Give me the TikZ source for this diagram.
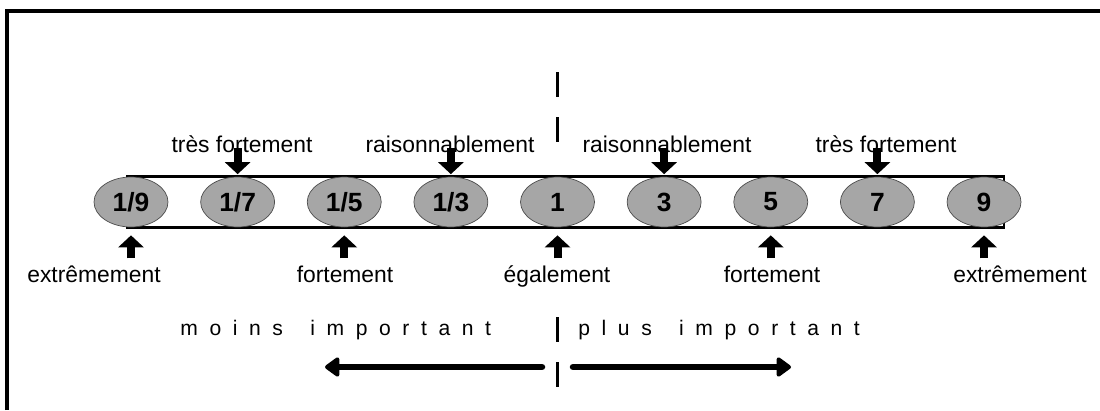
\documentclass[tikz,border=0pt]{standalone}
\usepackage{fontspec}
\setmainfont{Liberation Sans}
\newcommand\widespace{\spaceskip=0.55em\relax}
\usetikzlibrary{shapes.geometric, arrows.meta, positioning, backgrounds}
\tikzset{
  node distance=2.133cm,
  val/.style={ellipse, fill=gray!70, draw=gray!60!black, thin,
    minimum width=1.48cm, minimum height=1cm, inner sep=0pt,
    font=\fontsize{15}{18}\selectfont\bfseries},
  lbl/.style={anchor=base, inner sep=0pt, font=\fontsize{13}{15}\selectfont},
  scale text/.style={anchor=base west, inner sep=0pt,
    font=\fontsize{12}{14}\selectfont\widespace},
  pointer/.style={line width=0.16cm, -{Triangle[width=0.5cm,length=0.24cm]}},
  side/.style={line width=0.13cm, line cap=round,
    -{Triangle[width=0.44cm,length=0.32cm,round]}},
  divider/.style={line width=0.06cm, dash pattern=on 0.49cm off 0.42cm},
}

\begin{document}
\begin{tikzpicture}[x=0.02cm, y=-0.02cm]
  \useasboundingbox (0,0) rectangle (1100,410);
  \draw[line width=0.09cm] (7,410) -- (7,11) -- (1100,11);

  % the scale
  \node[val]              (v1) at (131,202) {1/9};
  \node[val,right of=v1]  (v2) {1/7};
  \node[val,right of=v2]  (v3) {1/5};
  \node[val,right of=v3]  (v4) {1/3};
  \node[val,right of=v4]  (v5) {1};
  \node[val,right of=v5]  (v6) {3};
  \node[val,right of=v6]  (v7) {5};
  \node[val,right of=v7]  (v8) {7};
  \node[val,right of=v8]  (v9) {9};

  \begin{scope}[on background layer]
    \draw[line width=0.05cm] ([xshift=-0.08cm]v1.north) rectangle ([xshift=0.4cm]v9.south);
  \end{scope}

  % labels above
  \node[lbl] (a2) at (242,152) {très fortement};
  \node[lbl] (a4) at (450,152) {raisonnablement};
  \node[lbl] (a6) at (667,152) {raisonnablement};
  \node[lbl] (a8) at (886,152) {très fortement};
  \foreach \i in {2,4,6,8}
    \draw[pointer] ([yshift=0.08cm]a\i.base -| v\i.north) -- ([yshift=0.05cm]v\i.north);

  % labels below
  \node[lbl] (b1) at (94,282)   {extrêmement};
  \node[lbl] (b3) at (345,282)  {fortement};
  \node[lbl] (b5) at (557,282)  {également};
  \node[lbl] (b7) at (772,282)  {fortement};
  \node[lbl] (b9) at (1020,282) {extrêmement};
  \foreach \i in {1,3,5,7,9}
    \draw[pointer] ([yshift=-0.62cm]v\i.south) -- ([yshift=-0.16cm]v\i.south);

  % middle line
  \draw[divider] (v5.north |- 0,72) -- (v5.north |- 0,143);
  \draw[divider] (v5.north |- 0,317) -- (v5.north |- 0,395);

  % direction
  \node[scale text] (less) at (180,335) {m o i n s\hspace{1.3em}i m p o r t a n t};
  \node[scale text] (more) at (578,335) {p l u s\hspace{1.3em}i m p o r t a n t};
  \draw[side] (542,367) -- (325,367);
  \draw[side] (573,367) -- (791,367);
\end{tikzpicture}
\end{document}
